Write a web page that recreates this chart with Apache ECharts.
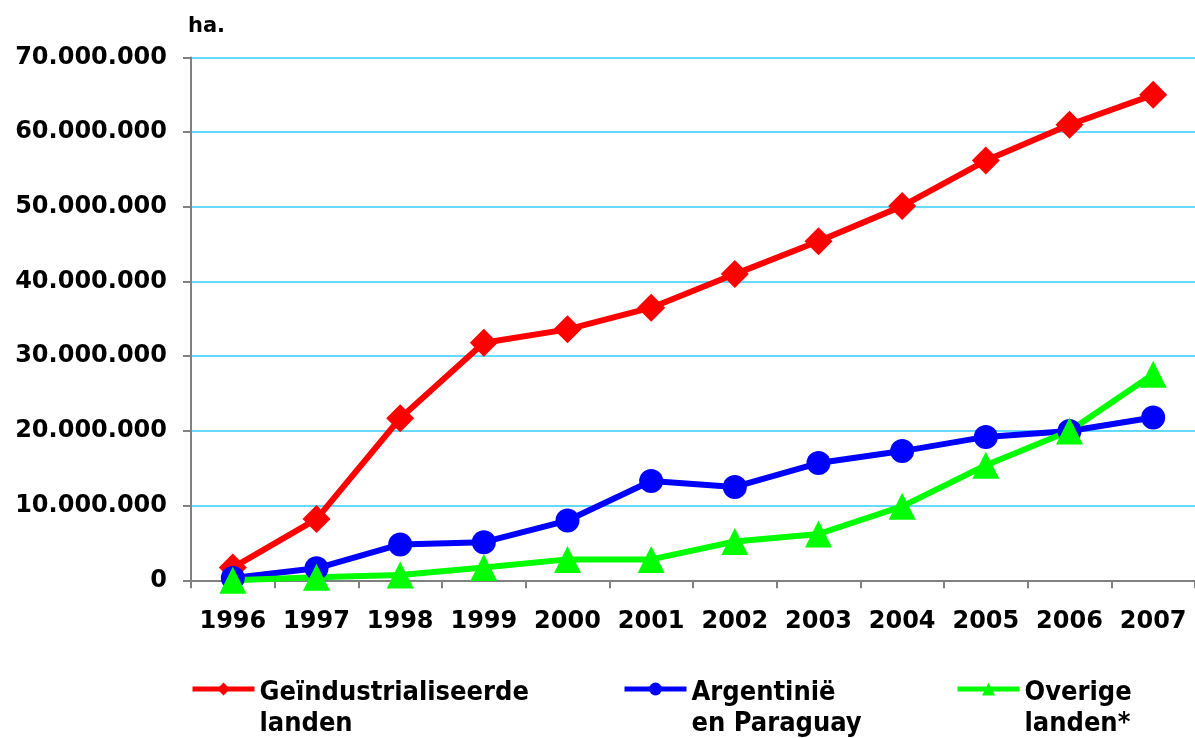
<!DOCTYPE html>
<html>
<head>
<meta charset="utf-8">
<script src="https://cdn.jsdelivr.net/npm/echarts@6/dist/echarts.min.js"></script>
<style>
  html, body { margin: 0; padding: 0; background: #fff; }
  #chart { width: 1195px; height: 738px; }
</style>
</head>
<body>
<div id="chart"></div>
<script>
var years = ['1996', '1997', '1998', '1999', '2000', '2001', '2002', '2003', '2004', '2005', '2006', '2007'];
var names = ['Geïndustrialiseerde landen', 'Argentinië en Paraguay', 'Overige landen*'];
var nameLines = [['Geïndustrialiseerde', 'landen'], ['Argentinië', 'en Paraguay'], ['Overige', 'landen*']];
var industrial = [1700000, 8200000, 21700000, 31800000, 33600000, 36500000, 41000000, 45400000, 50100000, 56200000, 61000000, 65000000];
var argParaguay = [300000, 1600000, 4800000, 5100000, 8000000, 13300000, 12500000, 15700000, 17300000, 19200000, 20000000, 21800000];
var others = [0, 400000, 700000, 1700000, 2800000, 2800000, 5200000, 6200000, 9900000, 15400000, 20000000, 27600000];

var font = 'DejaVu Sans';

function fmt(v) {
  return String(v).replace(/\B(?=(\d{3})+(?!\d))/g, '.');
}

function makeSeries(name, data, color, symbol, size) {
  return {
    name: name,
    type: 'line',
    data: data,
    symbol: symbol,
    symbolSize: size,
    showAllSymbol: true,
    lineStyle: { color: color, width: 6 },
    itemStyle: { color: color },
    z: 3
  };
}

// legend text: first line sits next to the icon, second line below it
function makeLegend(idx, left) {
  return {
    data: [names[idx]],
    left: left,
    top: 648,
    itemWidth: 62,
    itemHeight: 16,
    lineStyle: { width: 5 },
    formatter: function () {
      return '{gap| }\n{t|' + nameLines[idx][0] + '}\n{t|' + nameLines[idx][1] + '}';
    },
    textStyle: {
      color: '#000',
      rich: {
        gap: { fontSize: 10, lineHeight: 38 },
        t: {
          fontFamily: 'DejaVu Sans Condensed',
          fontWeight: 'bold',
          fontSize: 27,
          lineHeight: 31,
          color: '#000'
        }
      }
    }
  };
}

var option = {
  animation: false,
  backgroundColor: '#fff',
  title: {
    text: 'ha.',
    left: 183,
    top: 11,
    textStyle: { fontFamily: font, fontWeight: 'bold', fontSize: 21, color: '#000' }
  },
  legend: [
    makeLegend(0, 185),
    makeLegend(1, 617),
    makeLegend(2, 950)
  ],
  grid: { left: 191, right: 0, top: 57.5, bottom: 157.7 },
  xAxis: {
    type: 'category',
    data: years,
    boundaryGap: true,
    axisLine: { lineStyle: { color: '#808080', width: 2 } },
    axisTick: { show: true, length: 8, lineStyle: { color: '#808080', width: 2 } },
    axisLabel: { interval: 0, margin: 29, fontFamily: font, fontWeight: 'bold', fontSize: 24, color: '#000' },
    splitLine: { show: false }
  },
  yAxis: {
    type: 'value',
    min: 0,
    max: 70000000,
    interval: 10000000,
    axisLine: { show: true, lineStyle: { color: '#808080', width: 2 } },
    axisTick: { show: true, length: 8, lineStyle: { color: '#808080', width: 2 } },
    axisLabel: {
      margin: 24,
      fontFamily: font, fontWeight: 'bold', fontSize: 24, color: '#000',
      formatter: fmt
    },
    splitLine: { show: true, lineStyle: { color: '#33ccff', width: 1.5 } }
  },
  series: [
    makeSeries(names[0], industrial, '#ff0000', 'diamond', 28),
    makeSeries(names[1], argParaguay, '#0000ff', 'circle', 24),
    makeSeries(names[2], others, '#00ff00', 'triangle', 27)
  ]
};

var myChart = echarts.init(document.getElementById('chart'));
myChart.setOption(option);
</script>
</body>
</html>
